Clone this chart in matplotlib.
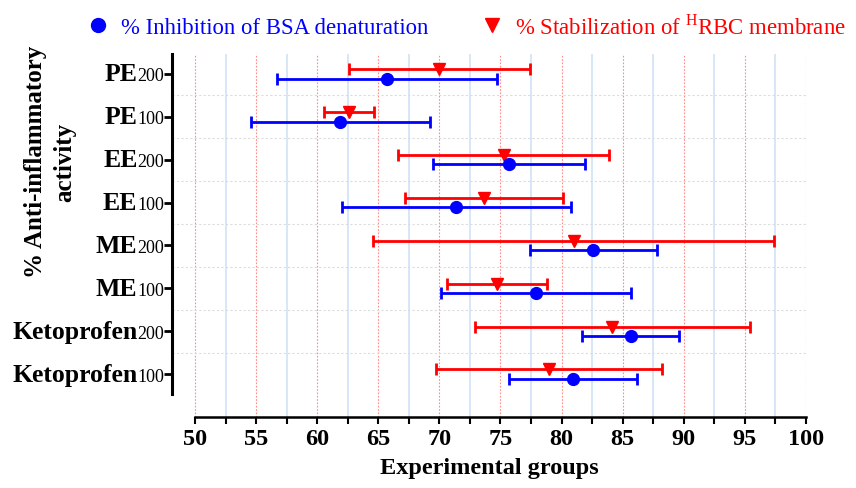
import matplotlib
matplotlib.use("Agg")
import matplotlib.pyplot as plt
from matplotlib.lines import Line2D
from matplotlib.offsetbox import TextArea, HPacker, AnnotationBbox
import numpy as np

plt.rcParams['font.family'] = ['Liberation Serif', 'DejaVu Serif']
plt.rcParams['mathtext.fontset'] = 'custom'
plt.rcParams['mathtext.rm'] = 'Liberation Serif'
plt.rcParams['mathtext.bf'] = 'Liberation Serif:bold'

# ---- data ----
group_names = ["PE", "PE", "EE", "EE", "ME", "ME", "Ketoprofen", "Ketoprofen"]
group_doses = ["200", "100", "200", "100", "200", "100", "200", "100"]
bsa_mean = [65.7, 61.9, 75.7, 71.4, 82.6, 77.9, 85.65, 80.95]
bsa_err = [9.0, 7.3, 6.2, 9.4, 5.2, 7.8, 3.95, 5.25]
hrbc_mean = [70.0, 62.6, 75.25, 73.65, 81.0, 74.7, 84.15, 78.95]
hrbc_err = [7.4, 2.05, 8.65, 6.45, 16.4, 4.1, 11.25, 9.25]
x_ticks = [50, 55, 60, 65, 70, 75, 80, 85, 90, 95, 100]
legend_labels = ["% Inhibition of BSA denaturation",
                 r"% Stabilization of ${}^{\mathrm{H}}$RBC membrane"]
x_label = "Experimental groups"
y_label = "% Anti-inflammatory\nactivity"

BLUE = "#0000ff"
RED = "#ff0000"

fig = plt.figure(figsize=(8.56, 4.89), dpi=100)
ax = fig.add_axes([172/856, 1-418/489, (806-172)/856, (418-55)/489])

n = len(group_names)
ypos = np.arange(n)
off = 0.11

# grid lines
for xv in x_ticks:
    ax.axvline(xv, color="#ff8a8a", lw=0.8, ls=(0, (1.5, 1.5)), zorder=0)
for xv in np.array(x_ticks[:-1]) + 2.5:
    ax.axvline(xv, color="#cfe3f7", lw=1.2, zorder=0)
for yv in ypos[:-1] + 0.5:
    ax.axhline(yv, color="#dcdcdc", lw=0.8, ls=(0, (2, 2)), zorder=0)

ax.errorbar(hrbc_mean, ypos - off, xerr=hrbc_err, fmt='v', color=RED, ms=9,
            capsize=4, elinewidth=2, capthick=2, zorder=3)
ax.errorbar(bsa_mean, ypos + off, xerr=bsa_err, fmt='o', color=BLUE, ms=8.5,
            capsize=4, elinewidth=2, capthick=2, zorder=4)

ax.set_xlim(48.12, 100)
ax.set_ylim(8.0, -0.465)

for s in ["top", "right"]:
    ax.spines[s].set_visible(False)
ax.spines["left"].set_bounds(-0.465, 7.465)
ax.spines["left"].set_linewidth(2.2)
ax.spines["bottom"].set_bounds(50, 100)
ax.spines["bottom"].set_linewidth(1.8)

ax.set_xticks(x_ticks)
ax.set_xticks(np.array(x_ticks[:-1]) + 2.5, minor=True)
ax.set_xticklabels([str(v) for v in x_ticks], fontsize=17.5, fontweight='bold')
ax.tick_params(axis='x', which='both', direction='out', length=5, width=1.5, pad=3)

ax.set_yticks(ypos)
ax.set_yticklabels([""] * n)
ax.tick_params(axis='y', direction='out', length=6, width=2)

for i, (nm, ds) in enumerate(zip(group_names, group_doses)):
    t1 = TextArea(nm, textprops=dict(fontsize=18.5, fontweight='bold'))
    t2 = TextArea(ds, textprops=dict(fontsize=13))
    box = HPacker(children=[t1, t2], align='baseline', pad=0, sep=0)
    ab = AnnotationBbox(box, (0, ypos[i]), xycoords=ax.get_yaxis_transform(),
                        xybox=(-5.5, 0), boxcoords='offset points',
                        box_alignment=(1, 0.5), frameon=False,
                        annotation_clip=False)
    ax.add_artist(ab)

ax.set_xlabel(x_label, fontsize=17.5, fontweight='bold', labelpad=6)
fig.text(50/856, 1-162/489, y_label, rotation=90, fontsize=18, fontweight='bold',
         ha='center', va='center', linespacing=1.35)

handles = [Line2D([], [], ls='none', marker='o', color=BLUE, ms=10),
           Line2D([], [], ls='none', marker='v', color=RED, ms=10)]
leg = fig.legend(handles, legend_labels, loc='center',
                 bbox_to_anchor=(0.545, 1-27/489), ncol=2, frameon=False,
                 fontsize=16.4, handlelength=1.0, handletextpad=0.5,
                 columnspacing=2.3)
for t, c in zip(leg.get_texts(), [BLUE, RED]):
    t.set_color(c)

fig.savefig("out.png", dpi=100)
